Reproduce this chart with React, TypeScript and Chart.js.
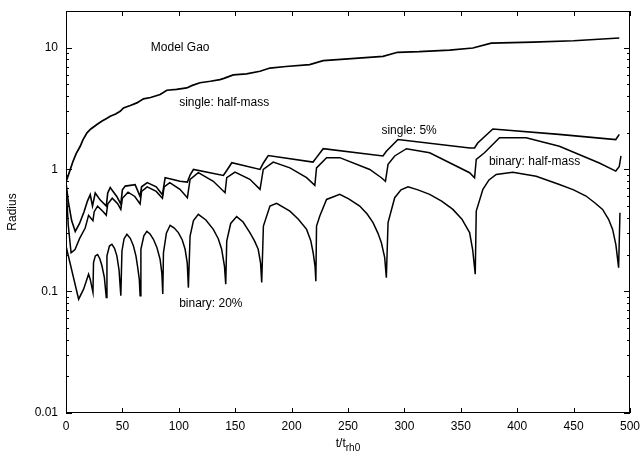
import { useEffect, useRef } from "react";
import { Chart, registerables } from "chart.js";

Chart.register(...registerables);

// Time in units of the initial half-mass relaxation time
const singleHalfT = [0, 3, 6, 9, 12.6, 15, 18.6, 22, 27.4, 32, 36, 39.2, 44, 48, 51, 57, 62.8, 68.7, 75, 83.5, 89.4, 98, 107, 112, 118.8, 128, 136.5, 140, 148.3, 160, 172, 180.8, 195, 216, 228, 250, 281, 294, 313, 340, 360.7, 377, 414, 450, 490.5];
const singleHalfR = [0.79, 0.95, 1.15, 1.35, 1.55, 1.75, 2.0, 2.15, 2.34, 2.5, 2.62, 2.73, 2.85, 3.0, 3.2, 3.35, 3.52, 3.8, 3.9, 4.12, 4.47, 4.55, 4.67, 4.9, 5.15, 5.3, 5.47, 5.6, 5.97, 6.1, 6.4, 6.8, 7.0, 7.26, 7.82, 8.1, 8.49, 9.16, 9.27, 9.55, 9.94, 10.9, 11.1, 11.4, 12.0];

const single5T = [0, 2, 5, 8.2, 12, 16, 19, 21.5, 23.5, 25.9, 30.4, 35.7, 37, 39.2, 45, 48.6, 50, 52.5, 61.3, 65.7, 67, 72, 80, 85.5, 87.9, 92, 101, 107.6, 110, 113, 139.5, 142.5, 147, 172, 175, 179.3, 219, 222, 228, 281, 284, 294.3, 358, 362.2, 365, 378.4, 437, 487.4, 490.5];
const single5R = [0.78, 0.55, 0.38, 0.31, 0.36, 0.45, 0.55, 0.62, 0.5, 0.64, 0.56, 0.5, 0.64, 0.71, 0.6, 0.52, 0.68, 0.73, 0.75, 0.6, 0.72, 0.78, 0.72, 0.62, 0.855, 0.84, 0.8, 0.787, 0.9, 1.0, 0.893, 0.98, 1.135, 1.0, 1.13, 1.3, 1.15, 1.25, 1.48, 1.29, 1.41, 1.76, 1.5, 1.5, 1.65, 2.15, 1.94, 1.76, 1.94];

const binaryHalfT = [0, 2, 4.5, 8, 12, 17, 20, 23.9, 25, 28, 33, 35.7, 37, 41, 46, 48.6, 50, 55, 61, 65.7, 67, 72, 80, 85.5, 87, 92, 101, 107.6, 110, 117.3, 130.6, 141, 142.5, 149.8, 163, 172, 174.9, 183.7, 198.5, 213.3, 220.6, 222.1, 231, 242.7, 269.3, 279.6, 283.2, 285.5, 291.4, 301.8, 322.4, 357.8, 362.2, 363.7, 371, 384.3, 407.9, 437.4, 472.8, 487.4, 490.5, 492];
const binaryHalfR = [0.75, 0.35, 0.207, 0.22, 0.27, 0.33, 0.42, 0.38, 0.45, 0.5, 0.45, 0.42, 0.52, 0.58, 0.52, 0.47, 0.58, 0.65, 0.6, 0.52, 0.66, 0.72, 0.66, 0.58, 0.72, 0.78, 0.686, 0.586, 0.83, 0.94, 0.8, 0.644, 0.855, 0.95, 0.83, 0.686, 1.0, 1.15, 1.03, 0.855, 0.74, 1.03, 1.25, 1.25, 1.0, 0.855, 0.8, 1.1, 1.29, 1.48, 1.37, 0.94, 0.855, 1.21, 1.37, 1.82, 1.82, 1.55, 1.13, 0.97, 1.06, 1.29];

const binary20T = [0, 5, 11.2, 15.6, 20, 21.5, 23.9,
  24.4, 26, 28, 30, 31.9, 34, 35.7,
  36.3, 38.5, 40.7, 43, 45.1, 47, 48.6,
  49.6, 51.5, 54, 57, 59.8, 62, 63.4, 65, 65.7,
  66.4, 69, 71.7, 74.5, 77.5, 80.5, 83.4, 85, 85.8,
  86.4, 89, 92.3, 96, 99.6, 103, 105.6, 107.5, 108.5,
  110, 113, 117.3, 124, 130.6, 135, 138, 140.5, 141.6,
  142.5, 146, 151.3, 157, 163, 167, 170.4, 172.5, 173.5,
  175, 180.8, 186.7, 198.5, 206, 213.3, 217, 219.1, 220.8, 221.5,
  222.1, 225, 231, 242.7, 251, 260.4, 267, 272.2, 276.5, 279.6, 282.5, 284,
  285.5, 291.4, 297, 303.2, 312, 322.4, 333, 343, 351, 357.8, 360.5, 362.8,
  363.7, 369.6, 375, 381.4, 396.1, 416.8, 437.4, 450, 461, 469, 475.7, 481, 484.6, 487.5, 489.9, 491.1];
const binary20R = [0.235, 0.15, 0.086, 0.104, 0.138, 0.125, 0.098,
  0.172, 0.195, 0.2, 0.185, 0.161, 0.13, 0.089,
  0.195, 0.235, 0.243, 0.225, 0.195, 0.15, 0.092,
  0.214, 0.27, 0.293, 0.272, 0.235, 0.195, 0.161, 0.125, 0.092,
  0.221, 0.285, 0.31, 0.295, 0.267, 0.23, 0.183, 0.14, 0.095,
  0.207, 0.3, 0.348, 0.33, 0.303, 0.265, 0.221, 0.17, 0.107,
  0.284, 0.38, 0.428, 0.385, 0.322, 0.27, 0.221, 0.16, 0.114,
  0.258, 0.36, 0.41, 0.37, 0.303, 0.26, 0.221, 0.17, 0.118,
  0.343, 0.5, 0.526, 0.455, 0.39, 0.322, 0.26, 0.207, 0.16, 0.121,
  0.343, 0.414, 0.567, 0.624, 0.57, 0.5, 0.43, 0.366, 0.3, 0.25, 0.19, 0.129,
  0.366, 0.586, 0.68, 0.721, 0.68, 0.624, 0.55, 0.47, 0.39, 0.303, 0.22, 0.138,
  0.455, 0.686, 0.82, 0.91, 0.95, 0.88, 0.753, 0.68, 0.605, 0.53, 0.47, 0.39, 0.322, 0.24, 0.156, 0.441];

const xTickValues = [0, 50, 100, 150, 200, 250, 300, 350, 400, 450, 500];
const yDecades = [0.01, 0.1, 1, 10];
const yMultipliers = [1, 2, 3, 4, 5, 6, 7, 8, 9];

// Curve labels, anchored at (t, R) of their left edge
const noteTexts = ["Model Gao", "single: half-mass", "single: 5%", "binary: half-mass", "binary: 20%"];
const noteT = [75.2, 100.3, 279.6, 374.9, 100.3];
const noteR = [10.06, 3.52, 2.1, 1.148, 0.079];

const FONT = '"Liberation Sans", Arial, Helvetica, sans-serif';
const X_MAX = 500;
const Y_MIN = 0.01;
const Y_MAX = 20;

function toPoints(t: number[], r: number[]) {
  return t.map((x, i) => ({ x, y: r[i] }));
}

const framePlugin = {
  id: "frameTicksNotes",
  afterDraw(chart: any) {
    const { ctx, chartArea: a, scales } = chart;
    const xs = scales.x;
    const ys = scales.y;
    ctx.save();
    ctx.strokeStyle = "#000";
    ctx.lineWidth = 1;
    ctx.strokeRect(Math.round(a.left) + 0.5, Math.round(a.top) + 0.5, Math.round(a.right - a.left) - 1, Math.round(a.bottom - a.top) - 1);

    ctx.beginPath();
    for (const v of xTickValues) {
      const px = Math.round(xs.getPixelForValue(v)) + 0.5;
      ctx.moveTo(px, a.bottom);
      ctx.lineTo(px, a.bottom - 5);
      ctx.moveTo(px, a.top);
      ctx.lineTo(px, a.top + 5);
    }
    for (const d of yDecades) {
      for (const m of yMultipliers) {
        const v = d * m;
        if (v > Y_MAX + 1e-9) continue;
        const len = m === 1 ? 6 : 3;
        const py = Math.round(ys.getPixelForValue(v)) + 0.5;
        ctx.moveTo(a.left, py);
        ctx.lineTo(a.left + len, py);
        ctx.moveTo(a.right, py);
        ctx.lineTo(a.right - len, py);
      }
    }
    ctx.stroke();

    ctx.fillStyle = "#000";
    ctx.font = `12px ${FONT}`;
    ctx.textAlign = "left";
    ctx.textBaseline = "middle";
    noteTexts.forEach((txt, i) => {
      ctx.fillText(txt, xs.getPixelForValue(noteT[i]), ys.getPixelForValue(noteR[i]));
    });

    // y-axis title
    ctx.save();
    ctx.translate(13, (a.top + a.bottom) / 2);
    ctx.rotate(-Math.PI / 2);
    ctx.textAlign = "center";
    ctx.textBaseline = "middle";
    ctx.font = `12px ${FONT}`;
    ctx.fillText("Radius", 0, 0);
    ctx.restore();

    // x-axis title with subscript
    const main = "t/t";
    const sub = "rh0";
    ctx.font = `12px ${FONT}`;
    const wMain = ctx.measureText(main).width;
    ctx.font = `10px ${FONT}`;
    const wSub = ctx.measureText(sub).width;
    const cx = (a.left + a.right) / 2;
    const x0 = cx - (wMain + wSub) / 2;
    ctx.textAlign = "left";
    ctx.textBaseline = "alphabetic";
    ctx.font = `12px ${FONT}`;
    ctx.fillText(main, x0, a.bottom + 34);
    ctx.font = `10px ${FONT}`;
    ctx.fillText(sub, x0 + wMain, a.bottom + 38);
    ctx.restore();
  },
};

function isDecade(v: number) {
  const l = Math.log10(v);
  return Math.abs(l - Math.round(l)) < 1e-6;
}

export default function App() {
  const ref = useRef<HTMLCanvasElement | null>(null);

  useEffect(() => {
    if (!ref.current) return;
    const line = (t: number[], r: number[], w: number) => ({
      data: toPoints(t, r),
      borderColor: "#000",
      borderWidth: w,
      pointRadius: 0,
      tension: 0,
      fill: false,
    });
    const chart = new Chart(ref.current, {
      type: "line",
      data: {
        datasets: [
          line(singleHalfT, singleHalfR, 1.7),
          line(single5T, single5R, 1.6),
          line(binaryHalfT, binaryHalfR, 1.5),
          line(binary20T, binary20R, 1.5),
        ],
      },
      options: {
        animation: false,
        responsive: false,
        maintainAspectRatio: false,
        layout: { padding: { top: 11, right: 13, left: 0, bottom: 0 } },
        plugins: { legend: { display: false }, tooltip: { enabled: false } },
        scales: {
          x: {
            type: "linear",
            min: 0,
            max: X_MAX,
            grid: { display: false, drawTicks: false },
            border: { display: false },
            ticks: {
              stepSize: 50,
              autoSkip: false,
              maxRotation: 0,
              padding: 6,
              color: "#000",
              font: { family: FONT, size: 12 },
            },
            afterFit: (s: any) => {
              s.height = 39;
              s.paddingLeft = 0;
              s.paddingRight = 0;
            },
          },
          y: {
            type: "logarithmic",
            min: Y_MIN,
            max: Y_MAX,
            grid: { display: false, drawTicks: false },
            border: { display: false },
            ticks: {
              autoSkip: false,
              padding: 8,
              color: "#000",
              font: { family: FONT, size: 12 },
              callback: (v: any) => {
                const n = Number(v);
                if (!isDecade(n)) return "";
                return yDecades.find((d) => Math.abs(d - n) / d < 1e-6)?.toString() ?? "";
              },
            },
            afterFit: (s: any) => {
              s.width = 66;
              s.paddingTop = 0;
              s.paddingBottom = 0;
            },
          },
        },
      } as any,
      plugins: [framePlugin],
    });
    return () => chart.destroy();
  }, []);

  return (
    <div style={{ position: "fixed", left: 0, top: 0, width: 643, height: 452, background: "#fff" }}>
      <canvas ref={ref} width={643} height={452} style={{ width: 643, height: 452, display: "block" }} />
    </div>
  );
}
